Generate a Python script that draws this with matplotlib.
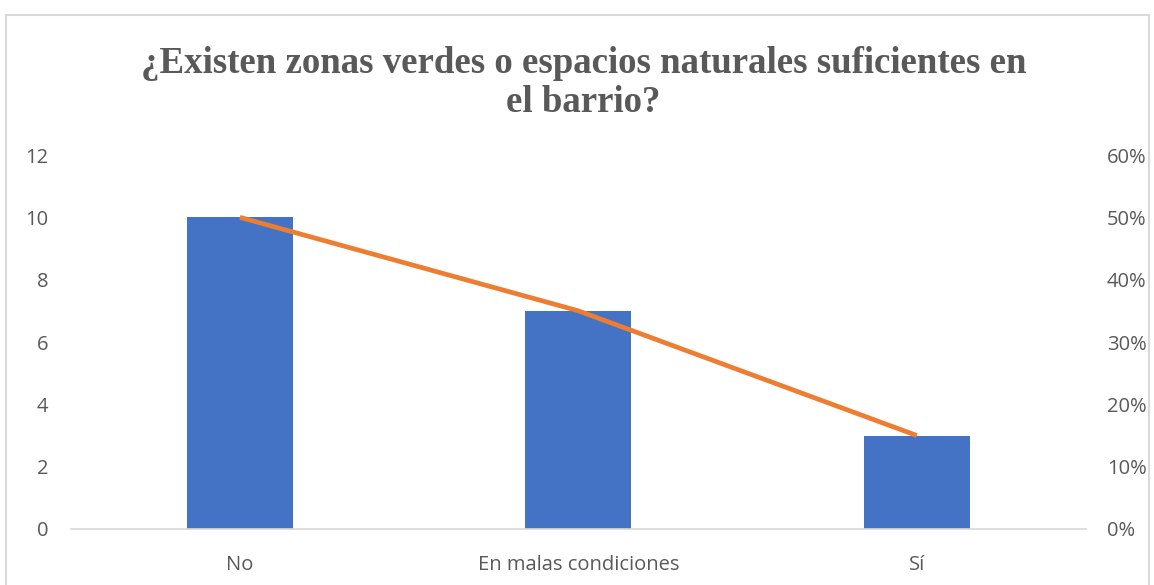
import matplotlib
matplotlib.use("Agg")
import matplotlib.pyplot as plt
from matplotlib.patches import Rectangle
from matplotlib.ticker import PercentFormatter

categories = ["No", "En malas condiciones", "Sí"]
counts = [10, 7, 3]
percents = [0.50, 0.35, 0.15]
left_ticks = [0, 2, 4, 6, 8, 10, 12]
right_ticks = [0, 0.1, 0.2, 0.3, 0.4, 0.5, 0.6]
title = "¿Existen zonas verdes o espacios naturales suficientes en\nel barrio?"

gray = "#595959"
W, H = 1154, 585
fig = plt.figure(figsize=(W / 100, H / 100), dpi=100)
fig.patches.append(Rectangle((6/W, -0.05), 1143/W, 1 - 15/H + 0.05,
                             transform=fig.transFigure, fill=False,
                             edgecolor="#D9D9D9", linewidth=1.5))

ax = fig.add_axes([70.7/W, 1 - 529/H, (1086-70.7)/W, (529-155)/H])
x = list(range(len(categories)))
ax.bar(x, counts, width=0.313, color="#4472C4", zorder=2)
ax.set_xlim(-0.5, 2.5)
ax.set_ylim(0, 12)
ax.set_yticks(left_ticks)
ax.set_xticks(x)
ax.set_xticklabels(categories)
for s in ["top", "right", "left"]:
    ax.spines[s].set_visible(False)
ax.spines["bottom"].set_color("#D9D9D9")
ax.spines["bottom"].set_linewidth(1.2)
ax.tick_params(length=0, labelsize=14.5, labelcolor=gray)
ax.tick_params(axis="x", pad=18.5)
ax.tick_params(axis="y", pad=16)
for lab in ax.get_xticklabels() + ax.get_yticklabels():
    lab.set_fontfamily("Open Sans")

ax2 = ax.twinx()
ax2.plot(x, percents, color="#ED7D31", linewidth=3.4, solid_capstyle="butt", zorder=3)
ax2.set_ylim(0, 0.6)
ax2.set_yticks(right_ticks)
ax2.yaxis.set_major_formatter(PercentFormatter(1.0, decimals=0))
for s in ["top", "right", "left", "bottom"]:
    ax2.spines[s].set_visible(False)
ax2.tick_params(length=0, labelsize=14.5, labelcolor=gray, pad=15)
for lab in ax2.get_yticklabels():
    lab.set_fontfamily("Open Sans")

fig.text(583.5/W, 1 - 83/H, title, ha="center", va="center",
         fontsize=26.6, fontweight="bold", color=gray,
         fontfamily="Liberation Serif", linespacing=1.13)

fig.savefig("out.png", dpi=100)
